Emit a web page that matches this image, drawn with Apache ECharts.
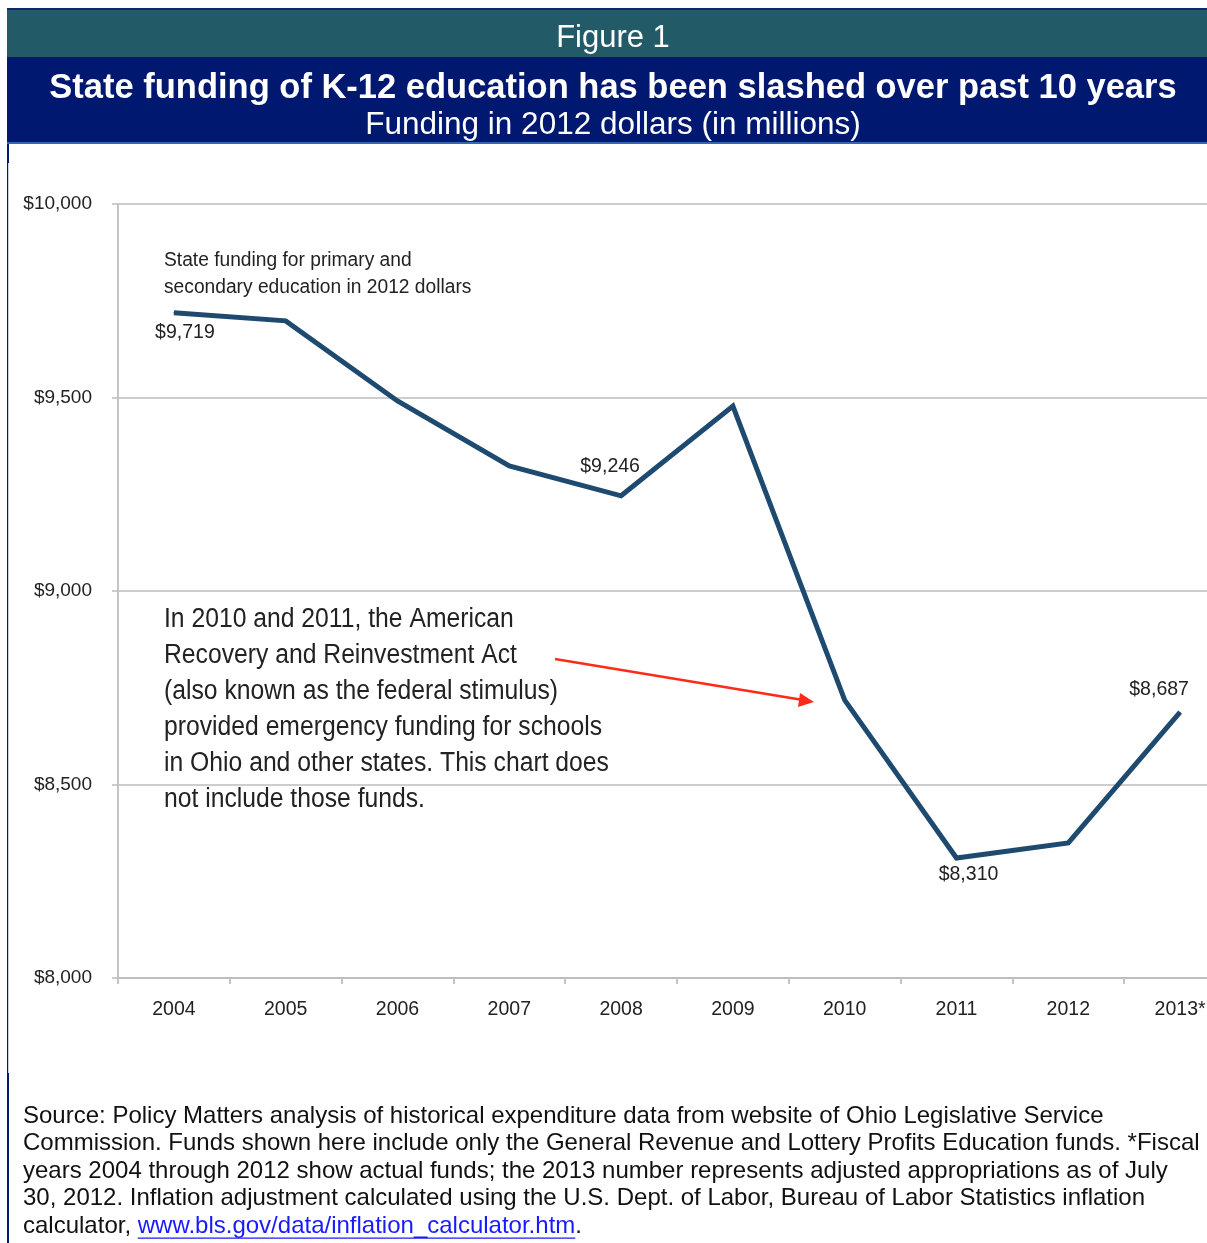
<!DOCTYPE html>
<html>
<head>
<meta charset="utf-8">
<script src="https://cdn.jsdelivr.net/npm/echarts@6/dist/echarts.min.js"></script>
<style>
  html, body { margin: 0; padding: 0; background: #ffffff; overflow: hidden; }
  #chart { width: 1240px; height: 1243px; }
</style>
</head>
<body>
<div id="chart"></div>
<script>
// ---- Data ----
const years = ['2004', '2005', '2006', '2007', '2008', '2009', '2010', '2011', '2012', '2013*'];
const funding = [9719, 9698, 9491, 9323, 9246, 9478, 8718, 8310, 8349, 8687];
const labeledYears = ['2004', '2008', '2011', '2013*'];
const yTicks = [8000, 8500, 9000, 9500, 10000];

const figureLabel = 'Figure 1';
const titleText = 'State funding of K-12 education has been slashed over past 10 years';
const subtitleText = 'Funding in 2012 dollars (in millions)';
const seriesNote = ['State funding for primary and', 'secondary education in 2012 dollars'];
const stimulusNote = [
  'In 2010 and 2011, the American',
  'Recovery and Reinvestment Act',
  '(also known as the federal stimulus)',
  'provided emergency funding for schools',
  'in Ohio and other states. This chart does',
  'not include those funds.'
];
const sourceLines = [
  'Source: Policy Matters analysis of historical expenditure data from website of Ohio Legislative Service',
  'Commission. Funds shown here include only the General Revenue and Lottery Profits Education funds. *Fiscal',
  'years 2004 through 2012 show actual funds; the 2013 number represents adjusted appropriations as of July',
  '30, 2012. Inflation adjustment calculated using the U.S. Dept. of Labor, Bureau of Labor Statistics inflation'
];
const sourceLastPrefix = 'calculator, ';
const sourceLink = 'www.bls.gov/data/inflation_calculator.htm';

// ---- Styling ----
const SANS = '"Liberation Sans", Arial, Helvetica, sans-serif';
const LINE_COLOR = '#1e4a70';
const TEXT = '#222';

const fmt = v => '$' + v.toLocaleString('en-US');

const measureCtx = document.createElement('canvas').getContext('2d');
function textWidth(t, font) { measureCtx.font = font; return measureCtx.measureText(t).width; }

const labelOffsets = {
  '2004': { position: 'bottom', offset: [11, 4] },
  '2008': { position: 'top', offset: [-11, -14] },
  '2011': { position: 'bottom', offset: [12, 1] },
  '2013*': { position: 'top', offset: [-21, -7] }
};

const seriesData = funding.map((v, i) => {
  const y = years[i];
  const item = { value: v };
  if (labeledYears.indexOf(y) >= 0) {
    item.label = Object.assign({
      show: true,
      formatter: p => fmt(p.value),
      color: TEXT,
      fontFamily: SANS,
      fontSize: 19.5
    }, labelOffsets[y]);
  }
  return item;
});

const chart = echarts.init(document.getElementById('chart'), null, { renderer: 'canvas' });

const graphics = [
  // header bands
  { type: 'rect', shape: { x: 7, y: 8, width: 1240, height: 2 }, style: { fill: '#0e2a6e' }, z: 1 },
  { type: 'rect', shape: { x: 7, y: 10, width: 1240, height: 47 }, style: { fill: '#235a67' }, z: 1 },
  { type: 'rect', shape: { x: 7, y: 57, width: 1240, height: 85 }, style: { fill: '#00186f' }, z: 1 },
  { type: 'rect', shape: { x: 7, y: 142, width: 1240, height: 2 }, style: { fill: '#2f6bb0' }, z: 1 },
  // left border
  { type: 'rect', shape: { x: 7, y: 144, width: 2, height: 19 }, style: { fill: '#00186f' }, z: 1 },
  { type: 'rect', shape: { x: 7, y: 163, width: 1.2, height: 910 }, style: { fill: '#00186f' }, z: 1 },
  { type: 'rect', shape: { x: 7, y: 1073, width: 2, height: 170 }, style: { fill: '#00186f' }, z: 1 },
  // header texts
  { type: 'text', x: 613, y: 38, style: { text: figureLabel, fill: '#fff', font: '31px ' + SANS, textAlign: 'center', textVerticalAlign: 'middle' }, z: 2 },
  { type: 'text', x: 613, y: 88, style: { text: titleText, fill: '#fff', font: 'bold 34.5px ' + SANS, textAlign: 'center', textVerticalAlign: 'middle' }, z: 2 },
  { type: 'text', x: 613, y: 125, style: { text: subtitleText, fill: '#fff', font: '31.5px ' + SANS, textAlign: 'center', textVerticalAlign: 'middle' }, z: 2 },
  // series note
  { type: 'text', x: 164, y: 260, scaleX: 0.96, style: { text: seriesNote[0], fill: TEXT, font: '20px ' + SANS, textVerticalAlign: 'middle' }, z: 5 },
  { type: 'text', x: 164, y: 287, scaleX: 0.96, style: { text: seriesNote[1], fill: TEXT, font: '20px ' + SANS, textVerticalAlign: 'middle' }, z: 5 }
];

stimulusNote.forEach((t, i) => {
  graphics.push({ type: 'text', x: 164, y: 620 + i * 36, scaleX: 0.915, style: { text: t, fill: TEXT, font: '27px ' + SANS, textVerticalAlign: 'middle' }, z: 5 });
});

// red arrow
graphics.push({ type: 'line', shape: { x1: 555, y1: 659, x2: 803, y2: 700 }, style: { stroke: '#ff2a1a', lineWidth: 2.5 }, z: 5 });
graphics.push({ type: 'polygon', shape: { points: [[814, 702], [800, 693], [798, 707]] }, style: { fill: '#ff2a1a' }, z: 5 });

const SRC_FONT = '24px ' + SANS;
sourceLines.forEach((t, i) => {
  graphics.push({ type: 'text', x: 23, y: 1116 + i * 27.6, style: { text: t, fill: '#111', font: SRC_FONT, textVerticalAlign: 'middle' }, z: 5 });
});
const lastY = 1116 + 4 * 27.6;
const prefixW = textWidth(sourceLastPrefix, '24px "Liberation Sans"');
const linkW = textWidth(sourceLink, '24px "Liberation Sans"');
graphics.push({ type: 'text', x: 23, y: lastY, style: { text: sourceLastPrefix, fill: '#111', font: SRC_FONT, textVerticalAlign: 'middle' }, z: 5 });
graphics.push({ type: 'text', x: 23 + prefixW, y: lastY, style: { text: sourceLink, fill: '#1a1aff', font: SRC_FONT, textVerticalAlign: 'middle' }, z: 5 });
graphics.push({ type: 'text', x: 23 + prefixW + linkW, y: lastY, style: { text: '.', fill: '#111', font: SRC_FONT, textVerticalAlign: 'middle' }, z: 5 });
graphics.push({ type: 'rect', shape: { x: 23 + prefixW, y: lastY + 11, width: linkW, height: 1.3 }, style: { fill: '#1a1aff' }, z: 5 });

chart.setOption({
  animation: false,
  backgroundColor: '#ffffff',
  grid: { left: 118, top: 204, width: 1118, height: 774, containLabel: false },
  xAxis: {
    type: 'category',
    data: years,
    boundaryGap: true,
    axisLine: { show: true, lineStyle: { color: '#bdbdbd', width: 2 } },
    axisTick: { show: true, interval: 0, length: 6, lineStyle: { color: '#c4c4c4', width: 2 } },
    axisLabel: { color: TEXT, fontFamily: SANS, fontSize: 19.5, margin: 22, interval: 0 },
    splitLine: { show: false }
  },
  yAxis: {
    type: 'value',
    min: yTicks[0],
    max: yTicks[yTicks.length - 1],
    interval: 500,
    axisLine: { show: true, lineStyle: { color: '#c4c4c4', width: 2 } },
    axisTick: { show: true, length: 6, lineStyle: { color: '#bdbdbd', width: 1.5 } },
    axisLabel: { color: TEXT, fontFamily: SANS, fontSize: 19, margin: 26, padding: [5, 0, 0, 0], formatter: v => fmt(v) },
    splitLine: { show: true, lineStyle: { color: '#bdbdbd', width: 1.5 } }
  },
  series: [{
    type: 'line',
    data: seriesData,
    symbol: 'circle',
    symbolSize: 1,
    showSymbol: true,
    lineStyle: { color: LINE_COLOR, width: 5, join: 'miter' },
    itemStyle: { color: LINE_COLOR },
    z: 3
  }],
  graphic: graphics
});
</script>
</body>
</html>
